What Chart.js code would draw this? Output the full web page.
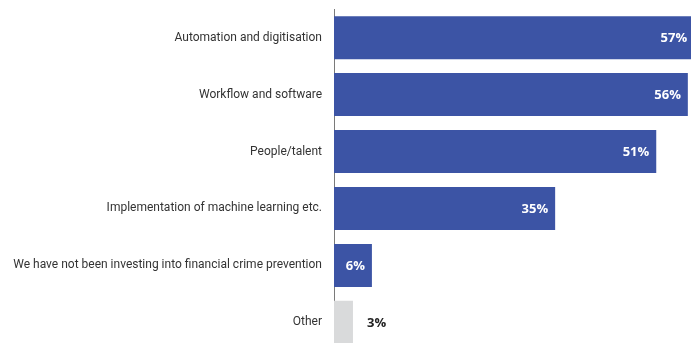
<!DOCTYPE html>
<html>
<head>
<meta charset="utf-8">
<script src="https://cdn.jsdelivr.net/npm/chart.js@4"></script>
<style>
  html, body { margin: 0; padding: 0; background: #fff; overflow: hidden; }
  #wrap { width: 691px; height: 343px; position: relative; overflow: hidden; }
  #chart { position: absolute; left: 0; top: -10.5px; }
</style>
</head>
<body>
<div id="wrap"><canvas id="chart" width="691" height="380"></canvas></div>
<script>
const categories = [
  "Automation and digitisation",
  "Workflow and software",
  "People/talent",
  "Implementation of machine learning etc.",
  "We have not been investing into financial crime prevention",
  "Other"
];
const shares = [57, 56, 51, 35, 6, 3];
const barColors = ["#3c54a5", "#3c54a5", "#3c54a5", "#3c54a5", "#3c54a5", "#d9dadb"];

// prints the percentage at the end of each bar (inside for blue bars, outside for grey)
const valueLabels = {
  id: "valueLabels",
  afterDatasetsDraw(chart) {
    const ctx = chart.ctx;
    const meta = chart.getDatasetMeta(0);
    ctx.save();
    ctx.font = "bold 13px 'Open Sans', sans-serif";
    ctx.textBaseline = "middle";
    meta.data.forEach((bar, i) => {
      const text = shares[i] + "%";
      if (barColors[i] === "#d9dadb") {
        ctx.fillStyle = "#222";
        ctx.textAlign = "left";
        ctx.fillText(text, bar.x + 14, bar.y + 1);
      } else {
        ctx.fillStyle = "#fff";
        ctx.textAlign = "right";
        ctx.fillText(text, bar.x - 7, bar.y + 1);
      }
    });
    ctx.restore();
  }
};

new Chart(document.getElementById("chart"), {
  type: "bar",
  data: {
    labels: categories,
    datasets: [{
      data: shares,
      backgroundColor: barColors,
      borderWidth: 0,
      categoryPercentage: 1,
      barPercentage: 0.755
    }]
  },
  options: {
    indexAxis: "y",
    responsive: false,
    animation: false,
    layout: { padding: 0 },
    plugins: { legend: { display: false }, tooltip: { enabled: false } },
    scales: {
      x: { display: false, min: 0, max: 56.5 },
      y: {
        grid: { display: false, drawTicks: false },
        border: { display: true, color: "#7a7a7a", width: 1 },
        ticks: { color: "#333", padding: 12, font: { family: "Roboto", size: 12 } },
        afterFit(scale) { scale.width = 334; }
      }
    }
  },
  plugins: [valueLabels]
});
</script>
</body>
</html>
